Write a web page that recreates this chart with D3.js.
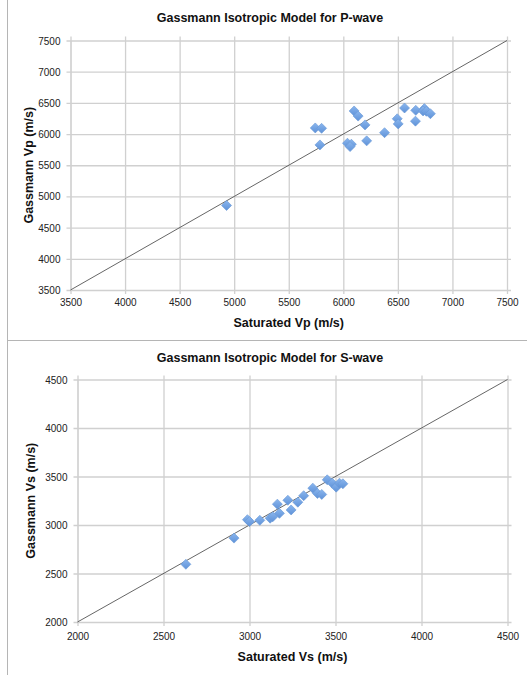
<!DOCTYPE html>
<html><head><meta charset="utf-8">
<script src="https://cdn.jsdelivr.net/npm/d3@7"></script>
<style>
html,body{margin:0;padding:0;background:#fff;}
svg{display:block;}
text{font-family:"Liberation Sans",Arial,sans-serif;}
</style></head>
<body>
<svg id="c" width="527" height="675"></svg>
<script>
// ---- data ----
const pTitle = "Gassmann Isotropic Model for P-wave";
const pXLabel = "Saturated Vp (m/s)";
const pYLabel = "Gassmann Vp (m/s)";
const pTicks = [3500, 4000, 4500, 5000, 5500, 6000, 6500, 7000, 7500];
const pSaturated = [4930, 5743, 5801, 5786, 6099, 6136, 6199, 6378, 6214, 6038, 6074, 6062, 6494, 6503, 6561, 6664, 6661, 6743, 6731, 6761, 6798];
const pGassmann  = [4855, 6098, 6092, 5826, 6370, 6288, 6147, 6022, 5891, 5853, 5837, 5799, 6245, 6163, 6418, 6380, 6207, 6408, 6370, 6365, 6326];

const sTitle = "Gassmann Isotropic Model for S-wave";
const sXLabel = "Saturated Vs (m/s)";
const sYLabel = "Gassmann Vs (m/s)";
const sTicks = [2000, 2500, 3000, 3500, 4000, 4500];
const sSaturated = [2630, 2910, 2988, 3000, 3060, 3120, 3135, 3174, 3162, 3223, 3242, 3281, 3315, 3368, 3395, 3420, 3452, 3481, 3504, 3523, 3543];
const sGassmann  = [2595, 2865, 3055, 3035, 3048, 3070, 3085, 3120, 3215, 3255, 3155, 3235, 3302, 3380, 3325, 3315, 3466, 3431, 3390, 3431, 3425];

const svg = d3.select("#c");

// panel borders
svg.append("line").attr("x1",7.5).attr("x2",7.5).attr("y1",0).attr("y2",675).attr("stroke","#b5b5b5");
svg.append("line").attr("x1",7).attr("x2",527).attr("y1",340.5).attr("y2",340.5).attr("stroke","#b5b5b5");

const defs = svg.append("defs");
const gr = defs.append("linearGradient").attr("id","mk").attr("x1","0").attr("y1","0").attr("x2","1").attr("y2","1");
gr.append("stop").attr("offset","0").attr("stop-color","#8ab6ee");
gr.append("stop").attr("offset","1").attr("stop-color","#5f92d8");

function chart(o){
  const x = d3.scaleLinear().domain(o.domain).range([o.x0, o.x1]);
  const y = d3.scaleLinear().domain(o.domain).range([o.y1, o.y0]);
  const g = svg.append("g");
  const W = o.x1 - o.x0, H = o.y1 - o.y0;
  const gx = g.append("g").attr("transform",`translate(0,${o.y1})`)
    .call(d3.axisBottom(x).tickValues(o.ticks).tickSize(-H-4).tickSizeOuter(0).tickFormat(d3.format("d")).tickPadding(0));
  gx.selectAll(".tick line").attr("stroke","#d0d0d0").attr("stroke-width",1.3).attr("y1",4);
  gx.select(".domain").attr("stroke","#d0d0d0");
  gx.selectAll("text").attr("fill","#222").style("font-size","10px").attr("y",o.xTickY);
  const gy = g.append("g").attr("transform",`translate(${o.x0},0)`)
    .call(d3.axisLeft(y).tickValues(o.ticks).tickSize(-W-4).tickSizeOuter(0).tickFormat(d3.format("d")).tickPadding(0));
  gy.selectAll(".tick line").attr("stroke","#d0d0d0").attr("stroke-width",1.3).attr("x1",-4);
  gy.select(".domain").attr("stroke","#d0d0d0");
  gy.selectAll("text").attr("fill","#222").style("font-size","10px").attr("x",o.yTickX).attr("dy","0.35em");
  g.append("line")
    .attr("x1",x(o.domain[0])).attr("y1",y(o.domain[0]))
    .attr("x2",x(o.domain[1])).attr("y2",y(o.domain[1]))
    .attr("stroke","#555").attr("stroke-width",0.9);
  const sym = d3.symbol().type(d3.symbolSquare).size(50);
  g.selectAll("path.pt").data(o.xs.map((v,i)=>[v,o.ys[i]])).join("path")
    .attr("class","pt")
    .attr("d",sym)
    .attr("transform",d=>`translate(${x(d[0])},${y(d[1])}) rotate(45)`)
    .attr("fill","url(#mk)").attr("stroke","#6a9ad8").attr("stroke-width",0.6);
  g.append("text").attr("x",o.titleX).attr("y",o.titleY).attr("text-anchor","middle")
    .style("font-size","12.5px").style("font-weight","bold").attr("fill","#111").text(o.title);
  g.append("text").attr("x",(o.x0+o.x1)/2).attr("y",o.xLabY).attr("text-anchor","middle")
    .style("font-size","12.5px").style("font-weight","bold").attr("fill","#111").text(o.xLabel);
  g.append("text").attr("transform",`translate(${o.yLabX},${(o.y0+o.y1)/2}) rotate(-90)`).attr("text-anchor","middle")
    .style("font-size","12.5px").style("font-weight","bold").attr("fill","#111").text(o.yLabel);
}

chart({domain:[3500,7500], ticks:pTicks, x0:70.5, x1:507, y0:40.5, y1:290,
  xs:pSaturated, ys:pGassmann, title:pTitle, xLabel:pXLabel, yLabel:pYLabel,
  titleX:270, titleY:22, xLabY:327, yLabX:33, xTickY:9, yTickX:-10});
chart({domain:[2000,4500], ticks:sTicks, x0:77.5, x1:507.5, y0:379.5, y1:622,
  xs:sSaturated, ys:sGassmann, title:sTitle, xLabel:sXLabel, yLabel:sYLabel,
  titleX:270, titleY:362, xLabY:661, yLabX:35, xTickY:11, yTickX:-10});
</script>
</body></html>
